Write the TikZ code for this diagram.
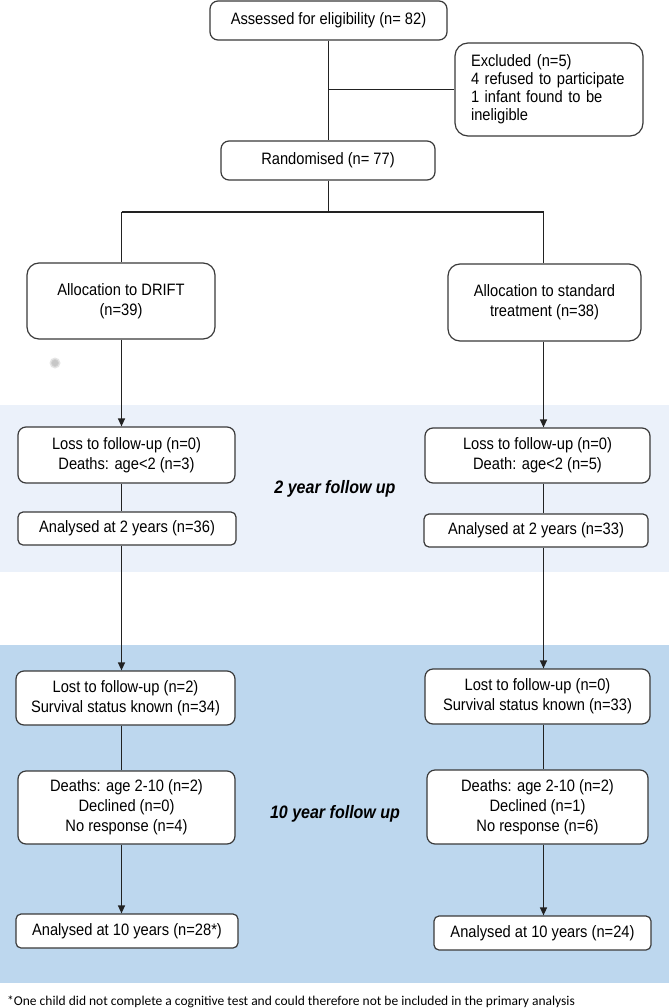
\documentclass[tikz,border=0pt]{standalone}
\usepackage{fontspec}
\setmainfont{Liberation Sans}[FakeStretch=0.89]
\newfontfamily\fnfont{Carlito}
\usetikzlibrary{arrows.meta}
\definecolor{bandlight}{HTML}{EBF1FA}
\definecolor{banddark}{HTML}{BDD7EE}
\definecolor{edgecol}{HTML}{3A3A3A}
\definecolor{linecol}{HTML}{222222}
\begin{document}
\begin{tikzpicture}[x=1pt,y=-1pt,
  box/.style={draw=edgecol, line width=1.2pt, fill=white, rounded corners=#1,
    inner sep=0pt, align=center, font=\fontsize{16.5}{20}\selectfont},
  box/.default=8pt,
  conn/.style={draw=linecol, line width=1.2pt},
  arr/.style={conn, -{Triangle[length=8pt,width=7pt]}},
  phase/.style={font=\fontsize{18}{20}\selectfont\bfseries\itshape, inner sep=0pt}
]
\useasboundingbox (0,0) rectangle (669,1008);
\fill[white] (0,0) rectangle (669,1008);
% bands
\fill[bandlight] (0,405) rectangle (669,572);
\fill[banddark] (0,645) rectangle (669,983);

% column coordinates
\coordinate (colL) at (121.5,0);
\coordinate (colM) at (328.3,0);
\coordinate (colR) at (543.5,0);
\coordinate (split) at (0,212);

% top
\node[box=8pt, minimum width=237pt, minimum height=39pt] (assess) at (328.5,20.5) {Assessed for eligibility (n= 82)};
\node[box=13pt, minimum height=93pt, text width=156pt, inner xsep=16pt, align=left,
      font=\fontsize{16.5}{18}\selectfont] (excl) at (549,89.5)
  {Excluded (n=5)\\4 refused to participate\\1 infant found to be\\ineligible};
\node[box=8pt, minimum width=214pt, minimum height=39pt] (rand) at (328,160.5) {Randomised (n= 77)};

% allocation
\node[box=12pt, minimum width=188pt, minimum height=76pt] (allocL) at (121,301) {Allocation to DRIFT\\(n=39)};
\node[box=12pt, minimum width=193pt, minimum height=77pt] (allocR) at (544.5,302.5) {Allocation to standard\\treatment (n=38)};

% gray speck
\fill[black!10] (55,363) circle (5.5);
\fill[black!18] (55,363) circle (4);
\fill[black!22] (55,363) circle (3);

% 2 year
\node[box=8pt, minimum width=217pt, minimum height=56pt] (lossL) at (126.5,455) {Loss to follow-up (n=0)\\Deaths: age<2 (n=3)};
\node[box=8pt, minimum width=225pt, minimum height=55pt] (lossR) at (537.5,455.5) {Loss to follow-up (n=0)\\Death: age<2 (n=5)};
\node[box=5pt, minimum width=218pt, minimum height=33pt] (anaTwoL) at (127,528.5) {Analysed at 2 years (n=36)};
\node[box=5pt, minimum width=224pt, minimum height=33pt] (anaTwoR) at (536,530.5) {Analysed at 2 years (n=33)};
\node[phase] (phaseTwo) at (335,489) {2 year follow up};

% 10 year
\node[box=8pt, minimum width=219pt, minimum height=54pt] (lostL) at (125.5,698) {Lost to follow-up (n=2)\\Survival status known (n=34)};
\node[box=8pt, minimum width=225pt, minimum height=55pt] (lostR) at (537.5,696.5) {Lost to follow-up (n=0)\\Survival status known (n=33)};
\node[box=8pt, minimum width=217pt, minimum height=73pt] (deathL) at (126.5,807.5) {Deaths: age 2-10 (n=2)\\Declined (n=0)\\No response (n=4)};
\node[box=8pt, minimum width=221pt, minimum height=74pt] (deathR) at (537.5,807) {Deaths: age 2-10 (n=2)\\Declined (n=1)\\No response (n=6)};
\node[phase] (phaseTen) at (335,814) {10 year follow up};
\node[box=5pt, minimum width=222pt, minimum height=34pt] (anaTenL) at (127,931) {Analysed at 10 years (n=28*)};
\node[box=5pt, minimum width=217pt, minimum height=34pt] (anaTenR) at (542.5,933) {Analysed at 10 years (n=24)};

% footnote
\node[anchor=base west, inner sep=0pt, font=\fnfont\fontsize{13.5}{15}\selectfont] (fn) at (7,1005)
  {*One child did not complete a cognitive test and could therefore not be included in the primary analysis};

% connectors top
\draw[conn] (assess.south -| colM) -- (rand.north -| colM);
\draw[conn] (excl.west -| colM) -- (excl.west);
\draw[conn] (rand.south -| colM) -- (split -| colM);
\draw[conn] (split -| colL) -- (split -| colR);
\draw[conn] (split -| colL) -- (allocL.north -| colL);
\draw[conn] (split -| colR) -- (allocR.north -| colR);

% left column
\draw[arr] (allocL.south -| colL) -- (lossL.north -| colL);
\draw[conn] (lossL.south -| colL) -- (anaTwoL.north -| colL);
\draw[arr] (anaTwoL.south -| colL) -- (lostL.north -| colL);
\draw[conn] (lostL.south -| colL) -- (deathL.north -| colL);
\draw[arr] (deathL.south -| colL) -- (anaTenL.north -| colL);

% right column
\draw[arr] (allocR.south -| colR) -- (lossR.north -| colR);
\draw[conn] (lossR.south -| colR) -- (anaTwoR.north -| colR);
\draw[arr] (anaTwoR.south -| colR) -- (lostR.north -| colR);
\draw[conn] (lostR.south -| colR) -- (deathR.north -| colR);
\draw[arr] (deathR.south -| colR) -- (anaTenR.north -| colR);
\end{tikzpicture}
\end{document}
